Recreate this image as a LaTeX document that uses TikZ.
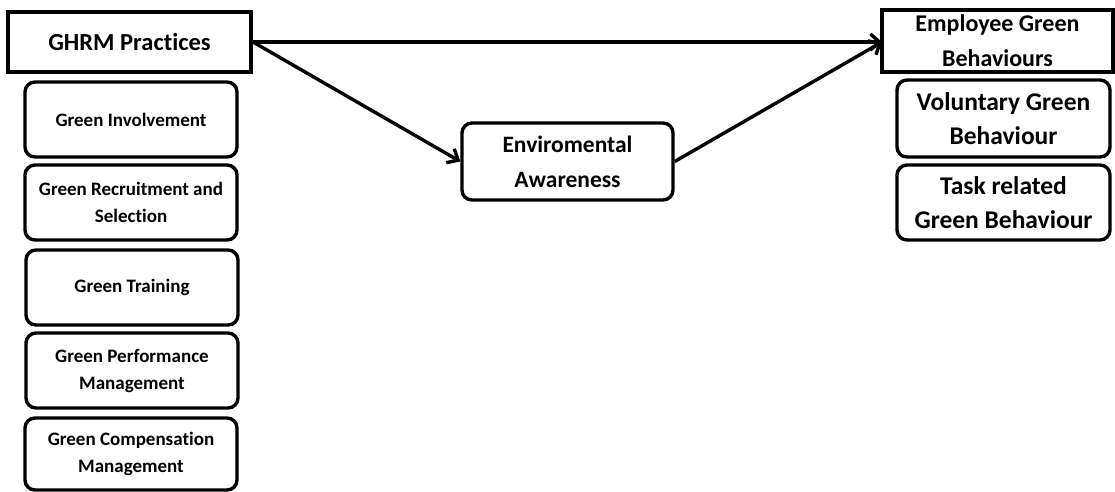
\documentclass[tikz,border=0pt]{standalone}
\usepackage{fontspec}
\setmainfont[Ligatures=NoCommon]{Carlito}
\usetikzlibrary{arrows.meta}
\begin{document}
\begin{tikzpicture}[x=1pt,y=-1pt,
  sq/.style={draw=black,line width=3.4pt,inner sep=0pt,align=center,font=\bfseries\fontsize{24.5}{30}\selectfont},
  rb/.style={draw=black,line width=3.4pt,rounded corners=10pt,inner sep=0pt,align=center},
  small/.style={rb,font=\bfseries\fontsize{19}{27}\selectfont},
  big/.style={rb,font=\bfseries\fontsize{25.5}{34}\selectfont},
  arr/.style={line width=3.4pt,-{Straight Barb[length=9pt,width=16pt,line width=3.4pt]}}]
\useasboundingbox (0,0) rectangle (1115,491);
\node[sq,minimum width=243pt,minimum height=60pt] (ghrm) at (129.5,42) {GHRM Practices};
\node[small,minimum width=212pt,minimum height=75pt] (g1) at (131,119.5) {Green Involvement};
\node[small,minimum width=212pt,minimum height=75pt] (g2) at (131,202.5) {Green Recruitment and\\Selection};
\node[small,minimum width=212pt,minimum height=75pt] (g3) at (132,287.5) {Green Training};
\node[small,minimum width=212pt,minimum height=75pt] (g4) at (132,370.5) {Green Performance\\Management};
\node[small,minimum width=212pt,minimum height=72pt] (g5) at (131,454) {Green Compensation\\Management};
\node[sq,minimum width=231pt,minimum height=62pt,font=\bfseries\fontsize{24}{31}\selectfont] (emp) at (997.5,41) {\raisebox{4pt}{Employee Green}\\Behaviours};
\node[big,minimum width=213pt,minimum height=77pt] (vol) at (1003.5,118.5) {Voluntary Green\\Behaviour};
\node[big,minimum width=213pt,minimum height=75pt] (task) at (1003.5,202.5) {Task related\\Green Behaviour};
\node[big,minimum width=211pt,minimum height=77pt,font=\bfseries\fontsize{23.5}{35}\selectfont] (env) at (567.5,161.5) {Enviromental\\Awareness};
\coordinate (gr) at (253,42);
\coordinate (el) at (882,42);
\draw[arr] (gr) -- (el);
\draw[arr] (gr) -- (env.west);
\draw[arr] (env.east) -- (el);
\end{tikzpicture}
\end{document}
